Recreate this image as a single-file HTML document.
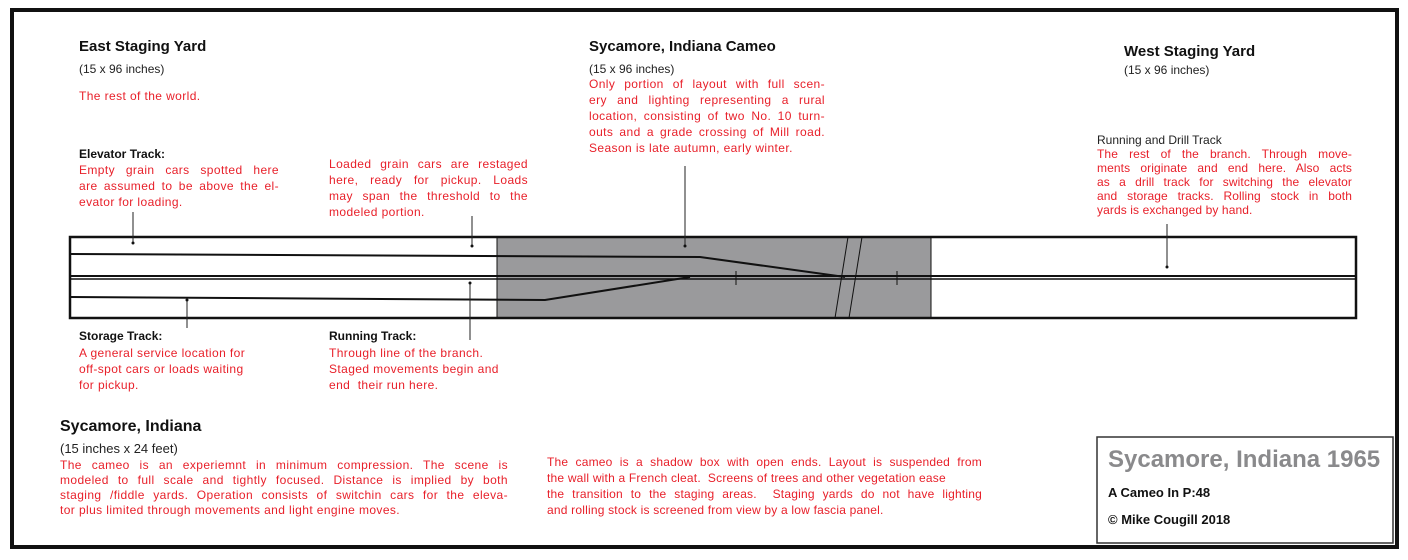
<!DOCTYPE html>
<html><head><meta charset="utf-8"><style>
body{margin:0;width:1408px;height:560px;background:#fff;position:relative;overflow:hidden;font-family:"Liberation Sans",sans-serif}
.t{position:absolute;white-space:nowrap}
.h{font-weight:bold;font-size:15px;color:#111}
.s{font-size:12px;color:#222}
.b{font-weight:bold;font-size:12px;color:#111}
.r{position:absolute;color:#e8202a;font-size:12px;line-height:16px;letter-spacing:0.4px;text-align:justify;text-align-last:left}
.r span{display:block;white-space:nowrap;text-align:justify;text-align-last:justify}
.r span.l{text-align-last:left}
</style></head><body>
<div style="position:absolute;left:10px;top:8px;width:1381px;height:533px;border:4px solid #111"></div>
<svg style="position:absolute;left:0;top:0" width="1408" height="560">
<rect x="497" y="237" width="434" height="81" fill="#9a9a9c"/>
<rect x="70" y="237" width="1286" height="81" fill="none" stroke="#111" stroke-width="2.5"/>
<line x1="70" y1="276" x2="1356" y2="276" stroke="#111" stroke-width="2"/>
<line x1="70" y1="279" x2="1356" y2="279" stroke="#111" stroke-width="1.5"/>
<line x1="497" y1="237" x2="497" y2="318" stroke="#111" stroke-width="1"/>
<line x1="931" y1="237" x2="931" y2="318" stroke="#111" stroke-width="1"/>
<polyline points="70,254 700,257 845,277" fill="none" stroke="#111" stroke-width="2"/>
<polyline points="70,297 545,300 690,277" fill="none" stroke="#111" stroke-width="2"/>
<line x1="848" y1="237" x2="835" y2="318" stroke="#111" stroke-width="1"/>
<line x1="862" y1="237" x2="849" y2="318" stroke="#111" stroke-width="1"/>
<line x1="736" y1="271" x2="736" y2="285" stroke="#111" stroke-width="1"/>
<line x1="897" y1="271" x2="897" y2="285" stroke="#111" stroke-width="1"/>
<g stroke="#222" stroke-width="1">
<line x1="133" y1="212" x2="133" y2="243"/><line x1="472" y1="216" x2="472" y2="246"/>
<line x1="685" y1="166" x2="685" y2="246"/><line x1="1167" y1="224" x2="1167" y2="267"/>
<line x1="187" y1="300" x2="187" y2="328"/><line x1="470" y1="283" x2="470" y2="340"/>
</g>
<g fill="#111"><circle cx="133" cy="243" r="1.5"/><circle cx="472" cy="246" r="1.5"/><circle cx="685" cy="246" r="1.5"/><circle cx="1167" cy="267" r="1.5"/><circle cx="187" cy="300" r="1.5"/><circle cx="470" cy="283" r="1.5"/></g>
<rect x="1097" y="437" width="296" height="106" fill="none" stroke="#333" stroke-width="1.5"/>
</svg>

<div class="t h" style="left:79px;top:38px">East Staging Yard</div>
<div class="t s" style="left:79px;top:62px">(15 x 96 inches)</div>
<div class="r" style="left:79px;top:88px">The rest of the world.</div>
<div class="t b" style="left:79px;top:147px">Elevator Track:</div>
<div class="r" style="left:79px;top:162px;width:200px"><span>Empty grain cars spotted here</span><span>are assumed to be above the el-</span><span class="l">evator for loading.</span></div>
<div class="r" style="left:329px;top:156px;width:199px"><span>Loaded grain cars are restaged</span><span>here, ready for pickup. Loads</span><span>may span the threshold to the</span><span class="l">modeled portion.</span></div>

<div class="t h" style="left:589px;top:38px">Sycamore, Indiana Cameo</div>
<div class="t s" style="left:589px;top:62px">(15 x 96 inches)</div>
<div class="r" style="left:589px;top:76px;width:236px"><span>Only portion of layout with full scen-</span><span>ery and lighting representing a rural</span><span>location, consisting of two No. 10 turn-</span><span>outs and a grade crossing of Mill road.</span><span class="l">Season is late autumn, early winter.</span></div>

<div class="t h" style="left:1124px;top:43px">West Staging Yard</div>
<div class="t s" style="left:1124px;top:63px">(15 x 96 inches)</div>
<div class="t s" style="left:1097px;top:133px">Running and Drill Track</div>
<div class="r" style="left:1097px;top:147px;width:255px;line-height:14px;letter-spacing:0.1px"><span>The rest of the branch. Through move-</span><span>ments originate and end here. Also acts</span><span>as a drill track for switching the elevator</span><span>and storage tracks. Rolling stock in both</span><span class="l">yards is exchanged by hand.</span></div>

<div class="t b" style="left:79px;top:329px">Storage Track:</div>
<div class="r" style="left:79px;top:345px;width:180px"><span class="l">A general service location for</span><span class="l">off-spot cars or loads waiting</span><span class="l">for pickup.</span></div>
<div class="t b" style="left:329px;top:329px">Running Track:</div>
<div class="r" style="left:329px;top:345px;width:190px"><span class="l">Through line of the branch.</span><span class="l">Staged movements begin and</span><span class="l">end&nbsp; their run here.</span></div>

<div class="t" style="left:60px;top:418px;font-weight:bold;font-size:16px;color:#111">Sycamore, Indiana</div>
<div class="t" style="left:60px;top:441px;font-size:13px;color:#222">(15 inches x 24 feet)</div>
<div class="r" style="left:60px;top:458px;width:448px;line-height:15px"><span>The cameo is an experiemnt in minimum compression. The scene is</span><span>modeled to full scale and tightly focused. Distance is implied by both</span><span>staging /fiddle yards. Operation consists of switchin cars for the eleva-</span><span class="l">tor plus limited through movements and light engine moves.</span></div>
<div class="r" style="left:547px;top:454px;width:435px;letter-spacing:0.2px"><span>The cameo is a shadow box with open ends. Layout is suspended from</span><span class="l">the wall with a French cleat.&nbsp; Screens of trees and other vegetation ease</span><span>the transition to the staging areas.&nbsp; Staging yards do not have lighting</span><span class="l">and rolling stock is screened from view by a low fascia panel.</span></div>

<div class="t" style="left:1108px;top:446px;font-weight:bold;font-size:24px;color:#8a8a8c">Sycamore, Indiana 1965</div>
<div class="t b" style="left:1108px;top:485px;font-size:13px">A Cameo In P:48</div>
<div class="t b" style="left:1108px;top:512px;font-size:13px">© Mike Cougill 2018</div>
</body></html>
